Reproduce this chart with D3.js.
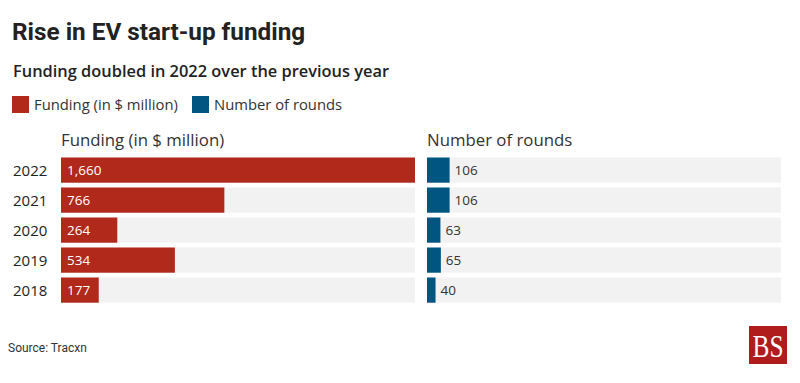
<!DOCTYPE html>
<html>
<head>
<meta charset="utf-8">
<script src="https://cdn.jsdelivr.net/npm/d3@7"></script>
<style>
  body { margin: 0; background: #fff; }
  text { font-family: "Open Sans", "Noto Sans", sans-serif; }
</style>
</head>
<body>
<script>
// data
var years = ["2022", "2021", "2020", "2019", "2018"];
var funding = [1660, 766, 264, 534, 177];
var rounds = [106, 106, 63, 65, 40];
var fundingLabels = ["1,660", "766", "264", "534", "177"];

var width = 800, height = 383;
var svg = d3.select("body").append("svg")
    .attr("width", width)
    .attr("height", height);

// title stuff
svg.append("text").attr("x", 12).attr("y", 40)
  .style("font-family", "Roboto, sans-serif")
  .style("font-size", "24.3px").style("font-weight", "bold").attr("fill", "#222")
  .text("Rise in EV start-up funding");
svg.append("text").attr("x", 13).attr("y", 77)
  .style("font-size", "16.4px").style("font-weight", "600").attr("fill", "#222")
  .text("Funding doubled in 2022 over the previous year");

// legend
var legend = [{name: "Funding (in $ million)", color: "#b0291b", x: 12},
              {name: "Number of rounds", color: "#005581", x: 192}];
var lg = svg.selectAll("g.legend").data(legend).enter().append("g")
  .attr("class", "legend")
  .attr("transform", function(d) { return "translate(" + d.x + ",96)"; });
lg.append("rect").attr("width", 17).attr("height", 17).attr("fill", function(d) { return d.color; });
lg.append("text").attr("x", 22).attr("y", 13.5)
  .style("font-size", "14.8px").attr("fill", "#333")
  .text(function(d) { return d.name; });

// scales, both panels use same x scale
var x = d3.scaleLinear().domain([0, 1660]).range([0, 354]);
var y = d3.scaleBand().domain(years).range([155.1, 305.1]).paddingInner(0.16).paddingOuter(0.08);

var panels = [
  {title: "Funding (in $ million)", left: 61, values: funding, color: "#b0291b", inside: true},
  {title: "Number of rounds", left: 427, values: rounds, color: "#005581", inside: false}
];

panels.forEach(function(p) {
  var g = svg.append("g").attr("transform", "translate(" + p.left + ",0)");
  g.append("text").attr("x", 0).attr("y", 146)
    .style("font-size", "16.8px").attr("fill", "#333").text(p.title);

  g.selectAll("rect.bg").data(years).enter().append("rect")
    .attr("class", "bg")
    .attr("x", 0).attr("y", function(d) { return y(d); })
    .attr("width", x.range()[1]).attr("height", y.bandwidth())
    .attr("fill", "#f2f2f2");

  g.selectAll("rect.bar").data(p.values).enter().append("rect")
    .attr("class", "bar")
    .attr("x", 0).attr("y", function(d, i) { return y(years[i]); })
    .attr("width", function(d) { return x(d); }).attr("height", y.bandwidth())
    .attr("fill", p.color);

  g.selectAll("text.val").data(p.values).enter().append("text")
    .attr("class", "val")
    .attr("x", function(d) { return p.inside ? 6 : x(d) + 5; })
    .attr("y", function(d, i) { return y(years[i]) + y.bandwidth() / 2; })
    .attr("dy", "0.36em")
    .style("font-size", "13.5px")
    .attr("fill", p.inside ? "#fff" : "#333")
    .text(function(d, i) { return p.inside ? fundingLabels[i] : d; });
});

// year labels
svg.selectAll("text.year").data(years).enter().append("text")
  .attr("class", "year")
  .attr("x", 13).attr("y", function(d) { return y(d) + y.bandwidth() / 2; })
  .attr("dy", "0.36em")
  .style("font-size", "15px").attr("fill", "#222")
  .text(function(d) { return d; });

// source
svg.append("text").attr("x", 8).attr("y", 352)
  .style("font-family", "Roboto, sans-serif")
  .style("font-size", "12px").attr("fill", "#333")
  .text("Source: Tracxn");

// BS logo
var logo = svg.append("g").attr("transform", "translate(749,326)");
logo.append("rect").attr("width", 38).attr("height", 38).attr("fill", "#b01c1c");
logo.append("text").attr("x", 19).attr("y", 31).attr("text-anchor", "middle")
  .style("font-family", "'Liberation Serif', 'DejaVu Serif', serif")
  .style("font-size", "32px").attr("fill", "#fff")
  .attr("textLength", 31).attr("lengthAdjust", "spacingAndGlyphs")
  .text("BS");
</script>
</body>
</html>
